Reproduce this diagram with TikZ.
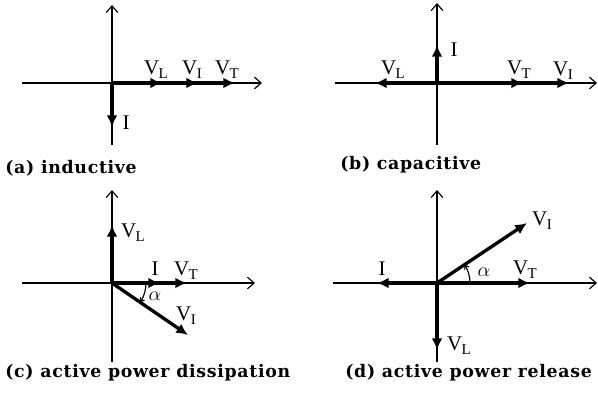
\documentclass[tikz,border=0pt]{standalone}
\usepackage{fontspec}
\setmainfont{Liberation Serif}
\newfontfamily\capfont[LetterSpace=4]{DejaVu Serif}
\usetikzlibrary{arrows.meta}
\newcommand{\vlab}[1]{V\kern-0.3pt\raisebox{-0.45ex}{\small #1}}

\begin{document}
\begin{tikzpicture}[x=0.6pt, y=0.6pt,
    axis/.style={line width=0.7pt, -{Straight Barb[length=4pt,width=7pt]}},
    phasor/.style={line width=2pt, -{Latex[length=7pt,width=6.5pt]}},
    tail/.style={line width=1.3pt, dash pattern=on 3pt off 2pt},
    angarc/.style={line width=0.7pt, -{Straight Barb[length=2pt,width=3pt]}},
    vlabel/.style={font=\fontsize{12.5}{14}\selectfont, inner sep=0pt},
    caption/.style={font=\capfont\bfseries\fontsize{10.4}{12}\selectfont, anchor=west, inner sep=0pt}
]
    \useasboundingbox (0,0) rectangle (598,395);

    % (a) inductive
    \begin{scope}[shift={(112,312)}]
        \coordinate (oa) at (0,0);
        \coordinate (ha1) at (-90,0);  \coordinate (ha2) at (150,0);
        \coordinate (va1) at (0,-62);  \coordinate (va2) at (0,78);
        \draw[axis] (ha1) -- (ha2);
        \draw[axis] (va1) -- (va2);
        \coordinate (avt) at (123,0);
        \coordinate (avi) at (86,0);
        \coordinate (avl) at (50,0);
        \coordinate (ai)  at (0,-44);
        \draw[phasor] (oa) -- (avt);
        \draw[phasor] (oa) -- (avi);
        \draw[phasor] (oa) -- (avl);
        \draw[phasor] (oa) -- (ai);
        \node[vlabel] (lavl) at (44,13) {\vlab{L}};
        \node[vlabel] (lavi) at (80,13) {\vlab{I}};
        \node[vlabel] (lavt) at (115,13) {\vlab{T}};
        \node[vlabel] (lai)  at (14,-40) {I};
    \end{scope}

    % (b) capacitive
    \begin{scope}[shift={(437,312)}]
        \coordinate (ob) at (0,0);
        \coordinate (hb1) at (-102,0); \coordinate (hb2) at (160,0);
        \coordinate (vb1) at (0,-62);  \coordinate (vb2) at (0,80);
        \draw[axis] (hb1) -- (hb2);
        \draw[axis] (vb1) -- (vb2);
        \coordinate (bvi) at (132,0);
        \coordinate (bvt) at (86,0);
        \coordinate (bvl) at (-62,0);
        \coordinate (bi)  at (0,38);
        \draw[phasor] (ob) -- (bvi);
        \draw[phasor] (ob) -- (bvt);
        \draw[phasor] (ob) -- (bvl);
        \draw[phasor] (ob) -- (bi);
        \node[vlabel] (lbvl) at (-44,13) {\vlab{L}};
        \node[vlabel] (lbvt) at (82,13) {\vlab{T}};
        \node[vlabel] (lbvi) at (126,12) {\vlab{I}};
        \node[vlabel] (lbi)  at (17,33) {I};
    \end{scope}

    % (c) active power dissipation
    \begin{scope}[shift={(112,112)}]
        \coordinate (oc) at (0,0);
        \coordinate (hc1) at (-90,0);  \coordinate (hc2) at (143,0);
        \coordinate (vc1) at (0,-79);  \coordinate (vc2) at (0,93);
        \draw[axis] (hc1) -- (hc2);
        \draw[axis] (vc1) -- (vc2);
        \coordinate (cvt) at (75,0);
        \coordinate (ci)  at (48,0);
        \coordinate (cvl) at (0,58);
        \coordinate (cvi) at (76,-52);
        \coordinate (ctail) at (96,0);
        \draw[tail] (cvt) -- (ctail);
        \draw[phasor] (oc) -- (cvt);
        \draw[phasor] (oc) -- (ci);
        \draw[phasor] (oc) -- (cvl);
        \draw[phasor] (oc) -- (cvi);
        \draw[angarc] ([shift={(0:34)}]oc) arc[start angle=0, end angle=-34.4, radius=34];
        \node[vlabel] (lcvl) at (21,50) {\vlab{L}};
        \node[vlabel] (lci)  at (43,14) {I};
        \node[vlabel] (lcvt) at (74,12) {\vlab{T}};
        \node[vlabel] (lca)  at (43,-13) {$\alpha$};
        \node[vlabel] (lcvi) at (74,-33) {\vlab{I}};
    \end{scope}

    % (d) active power release
    \begin{scope}[shift={(437,112)}]
        \coordinate (od) at (0,0);
        \coordinate (hd1) at (-104,0); \coordinate (hd2) at (160,0);
        \coordinate (vd1) at (0,-79);  \coordinate (vd2) at (0,93);
        \draw[axis] (hd1) -- (hd2);
        \draw[axis] (vd1) -- (vd2);
        \coordinate (dvi) at (90,60);
        \coordinate (dvt) at (93,0);
        \coordinate (di)  at (-60,0);
        \coordinate (dvl) at (0,-67);
        \coordinate (dtail) at (-102,0);
        \draw[tail] (di) -- (dtail);
        \draw[phasor] (od) -- (dvi);
        \draw[phasor] (od) -- (dvt);
        \draw[phasor] (od) -- (di);
        \draw[phasor] (od) -- (dvl);
        \draw[angarc] ([shift={(0:33)}]od) arc[start angle=0, end angle=33.7, radius=33];
        \node[vlabel] (ldvi) at (105,62) {\vlab{I}};
        \node[vlabel] (ldi)  at (-55,14) {I};
        \node[vlabel] (lda)  at (47,11) {$\alpha$};
        \node[vlabel] (ldvt) at (88,13) {\vlab{T}};
        \node[vlabel] (ldvl) at (22,-63) {\vlab{L}};
    \end{scope}

    % Captions
    \node[caption] (capa) at (5,227) {(a) inductive};
    \node[caption] (capb) at (340,230) {(b) capacitive};
    \node[caption] (capc) at (5,22) {(c) active power dissipation};
    \node[caption] (capd) at (345,22) {(d) active power release};
\end{tikzpicture}
\end{document}
